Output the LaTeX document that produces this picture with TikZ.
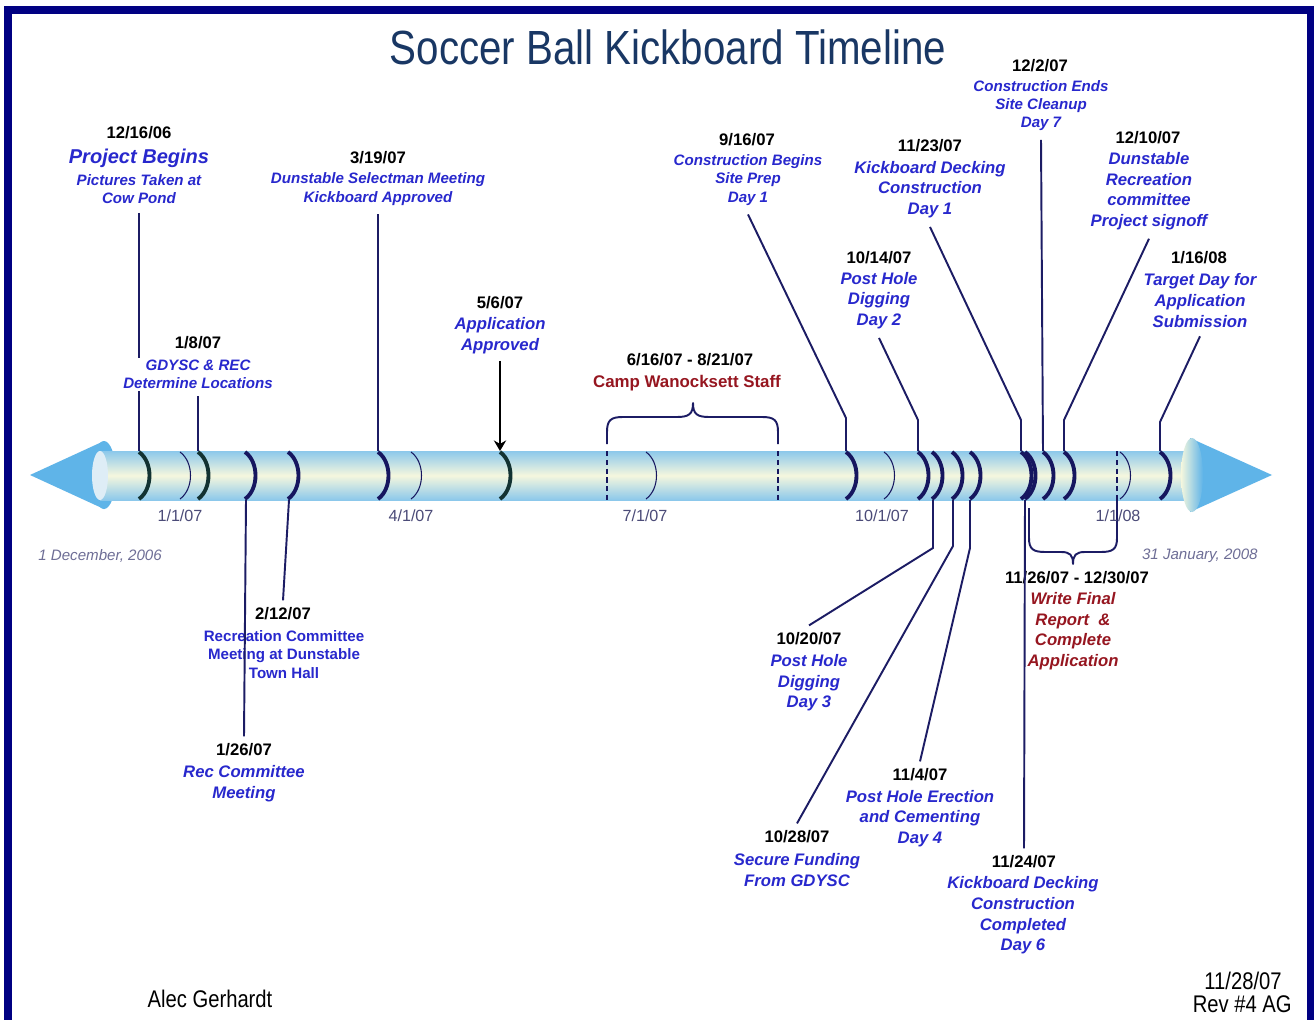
\documentclass[tikz,border=0pt]{standalone}
\usepackage{fontspec}
\setmainfont{Liberation Sans}
\newfontfamily\narrowfont[FakeStretch=0.84]{Liberation Sans}
\usetikzlibrary{arrows.meta}

\definecolor{evblue}{RGB}{40,40,205}
\definecolor{campred}{RGB}{150,22,32}
\definecolor{leadnavy}{RGB}{28,28,100}
\definecolor{arcnavy}{RGB}{22,22,95}
\definecolor{arcteal}{RGB}{18,50,50}
\definecolor{framenavy}{RGB}{0,0,130}
\definecolor{titleblue}{RGB}{25,55,100}
\definecolor{axisgray}{RGB}{75,75,120}
\definecolor{cornergray}{RGB}{110,110,150}
\definecolor{barblue}{RGB}{140,200,235}
\definecolor{barmid}{RGB}{245,247,222}
\definecolor{coneblue}{RGB}{95,180,232}
\definecolor{capwhite}{RGB}{222,237,246}

\begin{document}
\begin{tikzpicture}[x=0.02cm, y=-0.02cm,
    datelbl/.style={font=\fontsize{9.5}{11}\selectfont\bfseries, text=black, inner sep=1pt},
    evsmall/.style={font=\fontsize{8.6}{10.4}\selectfont\bfseries\itshape, text=evblue, align=center, inner sep=1pt},
    evbig/.style={font=\fontsize{9.5}{11.7}\selectfont\bfseries\itshape, text=evblue, align=center, inner sep=1pt},
    evplain/.style={font=\fontsize{8.6}{10.4}\selectfont\bfseries, text=evblue, align=center, inner sep=1pt},
    axislbl/.style={font=\fontsize{9.2}{11}\selectfont, text=axisgray},
    endlbl/.style={font=\fontsize{8.6}{10}\selectfont\itshape, text=cornergray, inner sep=0pt},
    footlbl/.style={font=\narrowfont\fontsize{13.7}{16}\selectfont, inner sep=0pt},
    lead/.style={draw=leadnavy, line width=1.1pt},
    evarc/.style={draw=arcnavy, line width=2.2pt},
    monarc/.style={draw=arcnavy, line width=0.6pt},
    spanline/.style={draw=arcnavy, line width=0.7pt, dash pattern=on 3pt off 2pt},
    bracket/.style={draw=leadnavy, line width=1.1pt, line join=round}
]
    % Page and frame
    \useasboundingbox (0,0) rectangle (1315,1020);
    \clip (0,0) rectangle (1315,1020);
    \fill[white] (0,0) rectangle (1315,1020);
    \draw[framenavy, line width=4pt] (8,10) rectangle (1310,1040);

    % Title
    \node[font=\narrowfont\fontsize{27.3}{30}\selectfont, text=titleblue] (title) at (668,47) {Soccer Ball Kickboard Timeline};

    % Left arrow head
    \fill[coneblue] (30,475) -- (104,441) -- (104,509) -- cycle;
    \fill[coneblue] (104,475) ellipse [x radius=12, y radius=34];

    % Timeline bar
    \shade[top color=barblue, bottom color=barblue, middle color=barmid] (100,451) rectangle (1192,500);
    \fill[capwhite] (100,475.5) ellipse [x radius=8, y radius=24.5];

    % Month markers
    \foreach \x in {180,411,646,884,1120}
        \draw[monarc] (\x,452) .. controls +(14,10) and +(14,-10) .. (\x,499);

    % Event markers
    \foreach \x in {139,198,500}
        \draw[evarc, draw=arcteal] (\x,452) .. controls +(14,10) and +(14,-10) .. (\x,499);
    \foreach \x in {245,288,378,846,918,932,952,970,1021,1025,1043,1064,1160}
        \draw[evarc] (\x,452) .. controls +(14,10) and +(14,-10) .. (\x,499);

    % Right arrow head
    \fill[coneblue] (1190,438) -- (1272,475) -- (1190,512) -- cycle;
    \shade[left color=barmid, right color=coneblue] (1192,475) ellipse [x radius=11, y radius=37];

    % Points on the bar
    \coordinate (b1216) at (139,451);
    \coordinate (b0108) at (198,451);
    \coordinate (b0126) at (246,500);
    \coordinate (b0212) at (289,500);
    \coordinate (b0319) at (378,451);
    \coordinate (b0506) at (500,451);
    \coordinate (b0916) at (846,451);
    \coordinate (b1014) at (918,451);
    \coordinate (b1020) at (933,500);
    \coordinate (b1028) at (953,500);
    \coordinate (b1104) at (970,500);
    \coordinate (b1123) at (1021,451);
    \coordinate (b1124) at (1025,500);
    \coordinate (b1202) at (1043,451);
    \coordinate (b1210) at (1064,451);
    \coordinate (b0116) at (1160,451);

    % Camp span
    \coordinate (campL) at (607,451);
    \coordinate (campR) at (778,451);
    \draw[spanline] (campL) -- ++(0,49);
    \draw[spanline] (campR) -- ++(0,49);
    \draw[bracket] (607,444) -- (607,432) .. controls (607,420) and (611,417) .. (623,417) -- (677,417)
        .. controls (689,417) and (693,414) .. (693,403) .. controls (693,414) and (697,417) .. (709,417)
        -- (762,417) .. controls (774,417) and (778,420) .. (778,432) -- (778,444);

    % Report span
    \coordinate (rptR) at (1117,451);
    \draw[spanline] (rptR) -- ++(0,49);
    \draw[bracket] (1029,508) -- (1029,538) .. controls (1029,549) and (1033,552) .. (1045,552) -- (1061,552)
        .. controls (1070,552) and (1073,555) .. (1073,564) .. controls (1073,555) and (1076,552) .. (1085,552)
        -- (1101,552) .. controls (1113,552) and (1117,549) .. (1117,538) -- (1117,500);

    % Axis dates
    \node[axislbl] (m0107) at (180,516) {1/1/07};
    \node[axislbl] (m0407) at (411,516) {4/1/07};
    \node[axislbl] (m0707) at (645,516) {7/1/07};
    \node[axislbl] (m1007) at (882,516) {10/1/07};
    \node[axislbl] (m0108) at (1118,516) {1/1/08};
    \node[endlbl, anchor=west] (start) at (38,556) {1 December, 2006};
    \node[endlbl, anchor=east] (finish) at (1258,556) {31 January, 2008};

    % Events above the bar
    \node[datelbl] (d1216) at (139,133) {12/16/06};
    \node[font=\fontsize{11.4}{13}\selectfont\bfseries\itshape, text=evblue, inner sep=1pt] (t1216) at (139,158) {Project Begins};
    \node[evsmall] (e1216) at (139,189) {Pictures Taken at\\Cow Pond};

    \node[datelbl] (d0108) at (198,343) {1/8/07};
    \node[evsmall, fill=white] (e0108) at (198,374.5) {GDYSC \& REC\\Determine Locations};

    \node[datelbl] (d0319) at (378,158) {3/19/07};
    \node[evsmall] (e0319) at (378,189) {Dunstable Selectman Meeting\\Kickboard Approved};

    \node[datelbl] (d0506) at (500,303) {5/6/07};
    \node[evbig] (e0506) at (500,335.5) {Application\\Approved};

    \node[datelbl] (dcamp) at (690,360) {6/16/07 - 8/21/07};
    \node[font=\fontsize{9.6}{11}\selectfont\bfseries, text=campred, inner sep=1pt] (ecamp) at (687,383) {Camp Wanocksett Staff};

    \node[datelbl] (d0916) at (747,140) {9/16/07};
    \node[evsmall] (e0916) at (748,180) {Construction Begins\\Site Prep\\Day 1};

    \node[datelbl] (d1014) at (879,258) {10/14/07};
    \node[evbig] (e1014) at (879,300.5) {Post Hole\\Digging\\Day 2};

    \node[datelbl] (d1123) at (930,146) {11/23/07};
    \node[evbig] (e1123) at (930,189.5) {Kickboard Decking\\Construction\\Day 1};

    \node[datelbl] (d1202) at (1040,66) {12/2/07};
    \node[evsmall] (e1202) at (1041,105.5) {Construction Ends\\Site Cleanup\\Day 7};

    \node[datelbl] (d1210) at (1148,138) {12/10/07};
    \node[evbig] (e1210) at (1149,191) {Dunstable\\Recreation\\committee\\Project signoff};

    \node[datelbl] (d0116) at (1199,258) {1/16/08};
    \node[evbig] (e0116) at (1200,300.5) {Target Day for\\Application\\Submission};

    % Events below the bar
    \node[datelbl] (d0126) at (244,750) {1/26/07};
    \node[evbig] (e0126) at (244,783.5) {Rec Committee\\Meeting};

    \node[datelbl] (d0212) at (283,614) {2/12/07};
    \node[evplain] (e0212) at (284,654.5) {Recreation Committee\\Meeting at Dunstable\\Town Hall};

    \node[datelbl] (d1020) at (809,639) {10/20/07};
    \node[evbig] (e1020) at (809,683) {Post Hole\\Digging\\Day 3};

    \node[datelbl] (d1028) at (797,837) {10/28/07};
    \node[evbig] (e1028) at (797,870) {Secure Funding\\From GDYSC};

    \node[datelbl] (d1104) at (920,775) {11/4/07};
    \node[evbig] (e1104) at (920,818.5) {Post Hole Erection\\and Cementing\\Day 4};

    \node[datelbl] (d1124) at (1024,862) {11/24/07};
    \node[evbig] (e1124) at (1023,915.5) {Kickboard Decking\\Construction\\Completed\\Day 6};

    \node[datelbl] (d1126) at (1077,578) {11/26/07 - 12/30/07};
    \node[evbig, text=campred] (e1126) at (1073,631) {Write Final\\Report\ \ \&\\Complete\\Application};

    % Leader lines above
    \draw[lead] ([yshift=-4pt]e1216.south) -- (e1216.south |- e0108.north);
    \draw[lead] (e1216.south |- e0108.south) -- (b1216);
    \draw[lead] ([yshift=-3pt]e0108.south) -- (b0108);
    \draw[lead] ([yshift=-4pt]e0319.south) -- (b0319);
    \draw[-{Stealth[length=6pt,width=7pt]}, line width=0.9pt] ([yshift=-3pt]e0506.south) -- (b0506);
    \draw[lead] (b0916) -- ++(0,-33) -- ([yshift=-4pt]e0916.south);
    \draw[lead] (b1014) -- ++(0,-31) -- ([yshift=-4pt]e1014.south);
    \draw[lead] (b1123) -- ++(0,-31) -- ([yshift=-4pt]e1123.south);
    \draw[lead] (b1202) -- ([yshift=-4pt]e1202.south);
    \draw[lead] (b1210) -- ++(0,-31) -- ([yshift=-4pt]e1210.south);
    \draw[lead] (b0116) -- ++(0,-29) -- ([yshift=-4pt]e0116.south);

    % Leader lines below
    \draw[lead] (b0126) -- ([yshift=3pt]d0126.north);
    \draw[lead] (b0212) -- ([yshift=3pt]d0212.north);
    \draw[lead] (b1020) -- ++(0,48) -- ([yshift=3pt]d1020.north);
    \draw[lead] (b1028) -- ++(0,46) -- ([yshift=3pt]d1028.north);
    \draw[lead] (b1104) -- ++(0,48) -- ([yshift=3pt]d1104.north);
    \draw[lead] (b1124) -- ([yshift=3pt]d1124.north);

    % Footer
    \node[footlbl] (author) at (210,999) {Alec Gerhardt};
    \node[footlbl, anchor=east] (revdate) at (1282,981) {11/28/07};
    \node[footlbl, anchor=east] (rev) at (1292,1004) {Rev \#4 AG};
\end{tikzpicture}
\end{document}
